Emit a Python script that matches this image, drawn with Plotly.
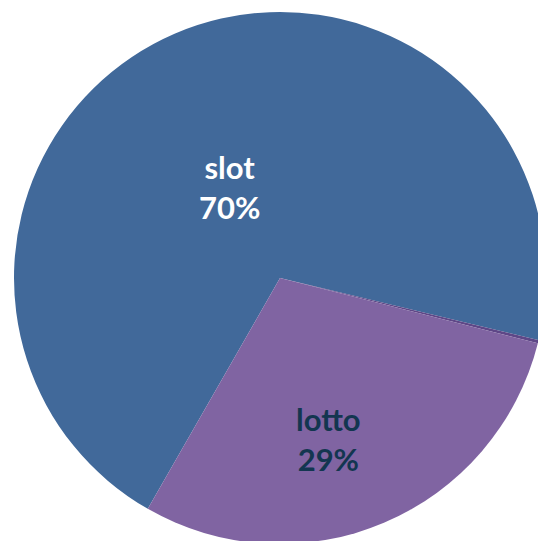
import plotly.graph_objects as go

labels = ["slot", "other", "lotto"]
values = [70.4, 0.2, 29.3]
colors = ["#41699A", "#5E4787", "#8064A2"]
text_colors = {"slot": "#FFFFFF", "lotto": "#133650"}
# label block centres (pixels from top-left of the page)
label_pos = {"slot": (229, 187), "lotto": (328, 439)}

W, H = 546, 544
fig = go.Figure(go.Pie(
    labels=labels,
    values=values,
    sort=False,
    direction="clockwise",
    rotation=209.8,
    marker=dict(colors=colors, line=dict(width=0)),
    textinfo="none",
    showlegend=False,
    domain=dict(x=[14 / W, 1], y=[0, 1 - 12 / H]),
    hoverinfo="label+percent",
))

total = sum(values)
for lab, val in zip(labels, values):
    if lab not in label_pos:
        continue
    px, py = label_pos[lab]
    pct = round(100 * val / total)
    fig.add_annotation(
        x=px / W, y=1 - py / H, xref="paper", yref="paper",
        text=f"{lab}<br>{pct}%", showarrow=False,
        xanchor="center", yanchor="middle",
        font=dict(family="Lato", size=31, weight="bold", color=text_colors[lab]),
    )

fig.update_layout(
    width=W, height=H,
    margin=dict(l=0, r=0, t=0, b=0),
    paper_bgcolor="white",
    plot_bgcolor="white",
)
fig.write_html(
    "out.html",
    config={"displayModeBar": False},
    post_script="document.body.style.margin='0';document.body.style.overflow='hidden';document.documentElement.style.overflow='hidden';",
)
